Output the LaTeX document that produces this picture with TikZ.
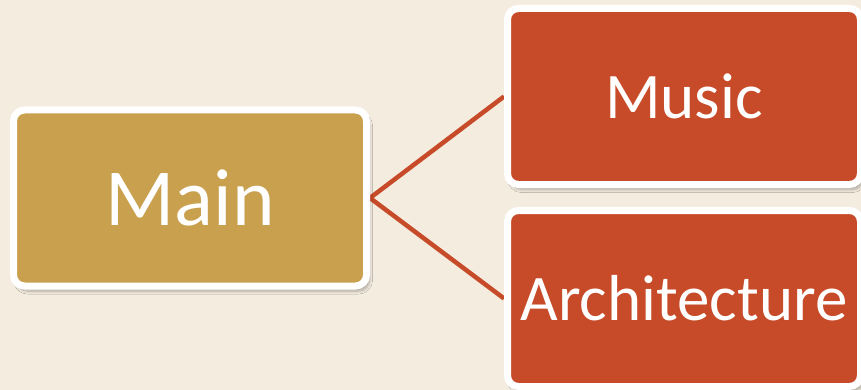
\documentclass[tikz,border=0pt]{standalone}
\usepackage{fontspec}
\setmainfont{Carlito}
\usetikzlibrary{shadows.blur,backgrounds}
\definecolor{bgc}{RGB}{244,236,223}
\definecolor{goldc}{RGB}{201,160,78}
\definecolor{redc}{RGB}{199,75,40}
\tikzset{
  box/.style={draw=white, line width=7pt, rounded corners=11pt, minimum width=353pt,
    minimum height=176pt, text=white, inner sep=0pt,
    blur shadow={shadow xshift=3pt, shadow yshift=-5pt, shadow blur radius=3pt, shadow blur steps=8, shadow opacity=30}},
  mainbox/.style={box, fill=goldc, font=\fontsize{81}{90}\selectfont},
  subbox/.style={box, fill=redc, font=\fontsize{65}{72}\selectfont},
  link/.style={draw=redc, line width=4.5pt, shorten <=-4pt}
}
\begin{document}
\begin{tikzpicture}[x=1pt,y=-1pt]
\useasboundingbox (0,0) rectangle (861,390);
\node[mainbox] (main) at (190,198) {Main};
\node[subbox] (music) at (684,96.5) {Music};
\node[subbox] (arch) at (684,298.5) {Architecture};
\begin{scope}[on background layer]
\fill[bgc] (0,0) rectangle (861,390);
\draw[link] (main.east) -- (music.west);
\draw[link] (main.east) -- (arch.west);
\end{scope}
\end{tikzpicture}
\end{document}
